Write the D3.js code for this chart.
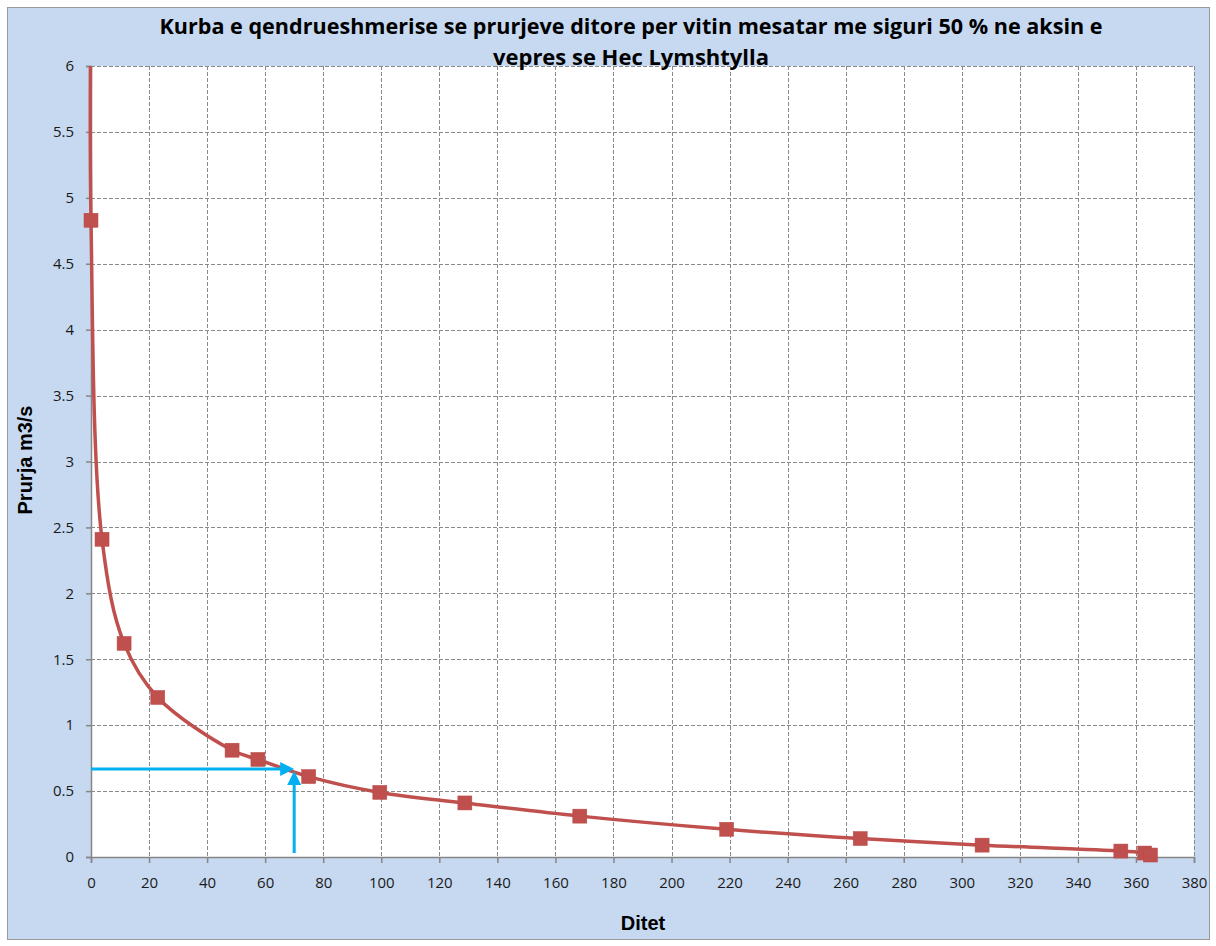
<!DOCTYPE html>
<html lang="en">
<head>
<meta charset="utf-8">
<title>Kurba e qendrueshmerise</title>
<script src="https://d3js.org/d3.v7.min.js"></script>
<style>
  body { margin:0; background:#fff; }
  svg text { font-family: "Open Sans", "DejaVu Sans", sans-serif; }
</style>
</head>
<body>
<div id="chart"></div>
<script>
// data
var days  = [0, 0, 3.8, 11.4, 23, 48.6, 57.5, 75, 99.5, 128.8, 168.4, 219, 265, 307, 354.8, 363, 365]
var flows = [6.6, 4.83, 2.41, 1.62, 1.21, 0.81, 0.74, 0.61, 0.49, 0.41, 0.31, 0.21, 0.14, 0.09, 0.045, 0.03, 0.015]
var marked = [false, true, true, true, true, true, true, true, true, true, true, true, true, true, true, true, true]
var xTicks = d3.range(0, 381, 20)
var yTicks = [0, 0.5, 1, 1.5, 2, 2.5, 3, 3.5, 4, 4.5, 5, 5.5, 6]
var guideDay = 70, guideFlow = 0.667
var titleLines = ["Kurba e qendrueshmerise se prurjeve ditore per vitin mesatar me siguri 50 % ne aksin e", "vepres se Hec Lymshtylla"]

var W = 1216, H = 946
var pL = 91, pR = 1194, pT = 66, pB = 857

var svg = d3.select("#chart").append("svg").attr("width", W).attr("height", H)

svg.append("rect").attr("x", 7.5).attr("y", 7.5).attr("width", 1202).attr("height", 932)
  .attr("fill", "#c6d9f1").attr("stroke", "#9a9a9a")

var x = d3.scaleLinear().domain([0, 380]).range([pL, pR])
var y = d3.scaleLinear().domain([0, 6]).range([pB, pT])

svg.append("rect").attr("x", pL).attr("y", pT).attr("width", pR - pL).attr("height", pB - pT).attr("fill", "#fff")

// grid
var grid = svg.append("g").attr("stroke", "#8a8a8a").attr("stroke-dasharray", "4,2").attr("stroke-width", 1)
grid.selectAll(".gx").data(xTicks.slice(1)).enter().append("line")
  .attr("x1", d => Math.round(x(d)) + 0.5).attr("x2", d => Math.round(x(d)) + 0.5).attr("y1", pT).attr("y2", pB)
grid.selectAll(".gy").data(yTicks.slice(1)).enter().append("line")
  .attr("y1", d => Math.round(y(d)) + 0.5).attr("y2", d => Math.round(y(d)) + 0.5).attr("x1", pL).attr("x2", pR)

// axes
var xAxis = svg.append("g").attr("transform", "translate(0," + pB + ")")
  .call(d3.axisBottom(x).tickValues(xTicks).tickSize(6).tickPadding(14))
var yAxis = svg.append("g").attr("transform", "translate(" + pL + ",0)")
  .call(d3.axisLeft(y).tickValues(yTicks).tickSize(5).tickPadding(12).tickFormat(d3.format("")))
;[xAxis, yAxis].forEach(function(a){
  a.selectAll("path,line").attr("stroke", "#868686").attr("stroke-width", 1.5)
  a.selectAll("text").attr("font-size", 15).attr("fill", "#1a1a1a")
})

// curve
var pts = days.map((d, i) => ({d: d, q: flows[i], m: marked[i]}))
svg.append("clipPath").attr("id", "clip").append("rect")
  .attr("x", pL - 10).attr("y", pT).attr("width", pR - pL + 20).attr("height", pB - pT + 10)
var plot = svg.append("g").attr("clip-path", "url(#clip)")
plot.append("path").datum(pts)
  .attr("d", d3.line().x(p => x(p.d)).y(p => y(p.q)).curve(d3.curveCatmullRom.alpha(0.5)))
  .attr("fill", "none").attr("stroke", "#c0504d").attr("stroke-width", 3.5)
plot.selectAll(".mk").data(pts.filter(p => p.m)).enter().append("rect")
  .attr("x", p => x(p.d) - 7).attr("y", p => y(p.q) - 7).attr("width", 14).attr("height", 14)
  .attr("fill", "#c0504d").attr("stroke", "#b84a47").attr("stroke-width", 0.5)

// guide arrows
var blue = "#00b0f0"
var gx = x(guideDay), gy = y(guideFlow)
svg.append("line").attr("x1", pL).attr("x2", gx - 12).attr("y1", gy).attr("y2", gy)
  .attr("stroke", blue).attr("stroke-width", 3)
svg.append("path").attr("d", "M" + (gx - 14) + "," + (gy - 7) + "L" + gx + "," + gy + "L" + (gx - 14) + "," + (gy + 7) + "Z").attr("fill", blue)
svg.append("line").attr("x1", gx).attr("x2", gx).attr("y1", y(0) - 4).attr("y2", gy + 14)
  .attr("stroke", blue).attr("stroke-width", 3)
svg.append("path").attr("d", "M" + (gx - 7) + "," + (gy + 16) + "L" + gx + "," + (gy + 2) + "L" + (gx + 7) + "," + (gy + 16) + "Z").attr("fill", blue)

// titles
svg.selectAll(".title").data(titleLines).enter().append("text")
  .attr("x", 631).attr("y", (d, i) => 34 + i * 31).attr("text-anchor", "middle")
  .attr("font-size", 21).attr("font-weight", "bold").attr("fill", "#000")
  .style("font-family", "'Liberation Sans Narrow', 'Open Sans', sans-serif")
  .attr("textLength", (d, i) => i === 0 ? 943 : 276).attr("lengthAdjust", "spacingAndGlyphs")
  .text(d => d)
svg.append("text").attr("x", 643).attr("y", 930).attr("text-anchor", "middle")
  .attr("font-size", 20).attr("font-weight", "bold").style("font-family", "Liberation Sans, Arial, sans-serif").text("Ditet")
svg.append("text").attr("transform", "translate(32,460) rotate(-90)").attr("text-anchor", "middle")
  .attr("font-size", 20).attr("font-weight", "bold").style("font-family", "Liberation Sans, Arial, sans-serif").text("Prurja m3/s")
</script>
</body>
</html>
